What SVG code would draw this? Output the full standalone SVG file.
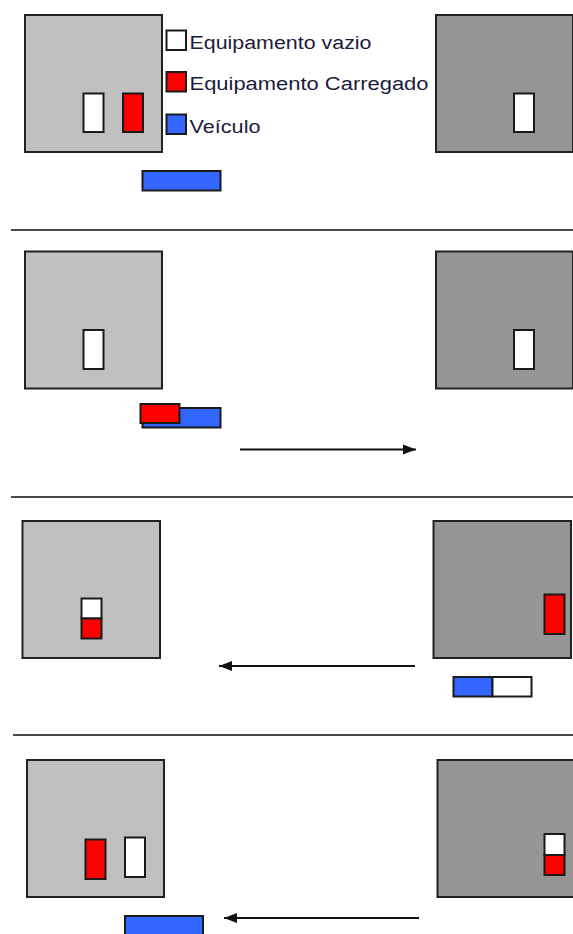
<svg xmlns="http://www.w3.org/2000/svg" width="573" height="934" viewBox="0 0 573 934">
<defs>
<style>
.bg{fill:#ffffff}
.yardA{fill:#c0c0c0;stroke:#222;stroke-width:2}
.yardB{fill:#959595;stroke:#222;stroke-width:2}
.empty{fill:#ffffff;stroke:#1a1a1a;stroke-width:2}
.loaded{fill:#ff0000;stroke:#1a1a1a;stroke-width:2}
.vehicle{fill:#3366ff;stroke:#1a1a1a;stroke-width:2}
.divider{stroke:#4a4a4a;stroke-width:2;fill:none}
.arrow{stroke:#111;stroke-width:2;fill:none;marker-end:url(#head)}
.legend{font-family:"Liberation Sans",Arial,sans-serif;font-size:18px;fill:#1c1c3a}
</style>
<marker id="head" markerUnits="userSpaceOnUse" markerWidth="14" markerHeight="12" refX="13" refY="6" orient="auto">
<path d="M0,1 L13,6 L0,11 Z" fill="#111"/>
</marker>
</defs>
<rect class="bg" x="0" y="0" width="573" height="934"/>

<g id="dividers">
<line class="divider" x1="11" y1="230" x2="573" y2="230"/>
<line class="divider" x1="11" y1="497" x2="573" y2="497"/>
<line class="divider" x1="13" y1="735" x2="573" y2="735"/>
</g>

<!-- Panel 1 -->
<g id="p1-yard-left">
<rect class="yardA" x="25" y="15" width="137" height="137"/>
<rect class="empty" x="83.5" y="93.5" width="20" height="38.5"/>
<rect class="loaded" x="123" y="93.5" width="20" height="38.5"/>
</g>
<g id="p1-yard-right">
<rect class="yardB" x="436" y="15" width="137" height="137"/>
<rect class="empty" x="514" y="93.5" width="20" height="38.5"/>
</g>
<g id="p1-vehicle">
<rect class="vehicle" x="142.5" y="171" width="78" height="19.5"/>
</g>
<g id="legend">
<rect class="empty" x="166.5" y="30.5" width="19.5" height="19.5"/>
<text class="legend" x="189.5" y="48.5" textLength="182" lengthAdjust="spacingAndGlyphs">Equipamento vazio</text>
<rect class="loaded" x="166.5" y="72" width="19.5" height="19.5"/>
<text class="legend" x="189.5" y="90" textLength="239" lengthAdjust="spacingAndGlyphs">Equipamento Carregado</text>
<rect class="vehicle" x="166.5" y="114.5" width="19.5" height="19.5"/>
<text class="legend" x="189.5" y="133" textLength="71" lengthAdjust="spacingAndGlyphs">Veículo</text>
</g>

<!-- Panel 2 -->
<g id="p2-yard-left">
<rect class="yardA" x="25" y="251.5" width="137" height="137"/>
<rect class="empty" x="83.5" y="330" width="20" height="39"/>
</g>
<g id="p2-yard-right">
<rect class="yardB" x="436" y="251.5" width="137" height="137"/>
<rect class="empty" x="514" y="330" width="20" height="39"/>
</g>
<g id="p2-vehicle">
<rect class="vehicle" x="142.5" y="408" width="78" height="19.5"/>
<rect class="loaded" x="140.5" y="404" width="39" height="19"/>
</g>

<!-- Panel 3 -->
<g id="p3-yard-left">
<rect class="yardA" x="22.5" y="521" width="137.5" height="137"/>
<rect class="empty" x="81.5" y="598.5" width="20" height="20"/>
<rect class="loaded" x="81.5" y="618.5" width="20" height="20"/>
</g>
<g id="p3-yard-right">
<rect class="yardB" x="433.5" y="521" width="137.5" height="137"/>
<rect class="loaded" x="544.5" y="594.5" width="20" height="39.5"/>
</g>
<g id="p3-vehicle">
<rect class="vehicle" x="453.5" y="677" width="39" height="19.5"/>
<rect class="empty" x="492.5" y="677" width="39" height="19.5"/>
</g>

<!-- Panel 4 -->
<g id="p4-yard-left">
<rect class="yardA" x="27" y="760" width="137" height="137"/>
<rect class="loaded" x="85.5" y="839.5" width="20" height="39.5"/>
<rect class="empty" x="125" y="837.5" width="20" height="39.5"/>
</g>
<g id="p4-yard-right">
<rect class="yardB" x="437.5" y="760" width="140" height="137"/>
<rect class="empty" x="544.5" y="834" width="20" height="21"/>
<rect class="loaded" x="544.5" y="855" width="20" height="20"/>
</g>
<g id="p4-vehicle">
<rect class="vehicle" x="125" y="916" width="78" height="19"/>
</g>

<g id="connectors">
<line class="arrow" x1="240" y1="449.5" x2="416" y2="449.5"/>
<line class="arrow" x1="415" y1="666" x2="219" y2="666"/>
<line class="arrow" x1="419" y1="918" x2="224" y2="918"/>
</g>
</svg>
